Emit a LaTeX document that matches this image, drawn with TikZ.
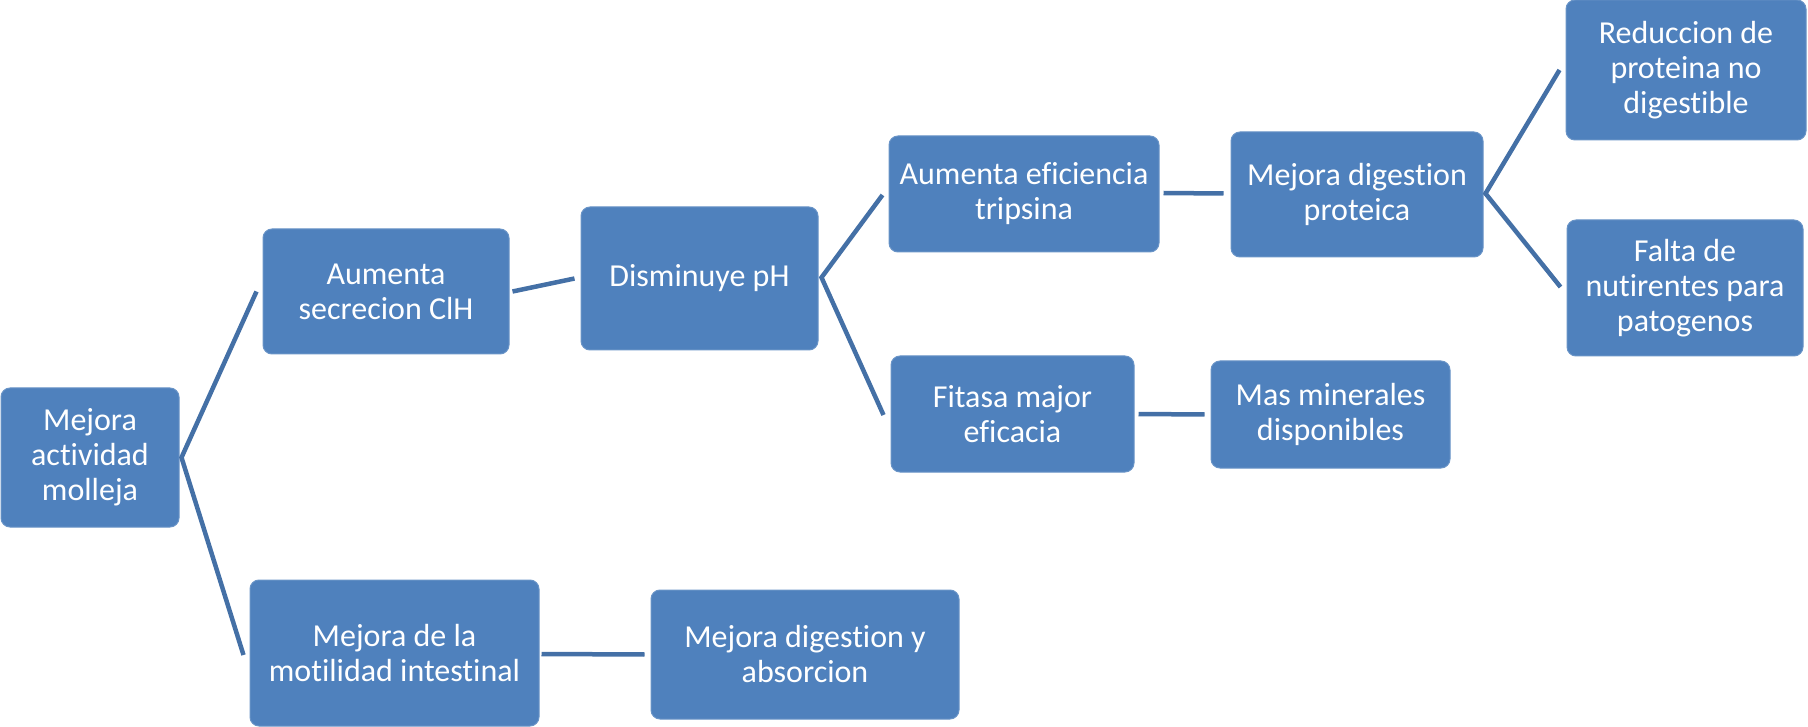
\documentclass[tikz,border=0pt]{standalone}
\usepackage{fontspec}
\setmainfont{Carlito}[Ligatures=NoCommon]
\usetikzlibrary{calc}
\definecolor{boxblue}{HTML}{4F81BD}
\definecolor{linkblue}{HTML}{4470A6}
\tikzset{
  box/.style={rectangle, rounded corners=9pt, fill=boxblue, draw=boxblue!85!white, line width=1pt,
    text=white, align=center, inner sep=0pt,
    font=\fontsize{32}{35}\selectfont},
  link/.style={draw=linkblue, line width=4.5pt}
}
\begin{document}
\begin{tikzpicture}[x=1pt,y=-1pt]
\useasboundingbox (0,0) rectangle (1808,727);
\node[box, minimum width=178pt, minimum height=139pt] (b1) at (90,457.5) {Mejora\\actividad\\molleja};
\node[box, minimum width=246pt, minimum height=125pt] (b2) at (386,291.5) {Aumenta\\secrecion ClH};
\node[box, minimum width=237pt, minimum height=143pt] (b3) at (699.5,278.5) {Disminuye pH};
\node[box, minimum width=270pt, minimum height=116pt] (b4) at (1024,194) {Aumenta eficiencia\\tripsina};
\node[box, minimum width=252pt, minimum height=125pt] (b5) at (1357,194.5) {Mejora digestion\\proteica};
\node[box, minimum width=240pt, minimum height=140pt] (b6) at (1686,70) {Reduccion de\\proteina no\\digestible};
\node[box, minimum width=236pt, minimum height=136pt] (b7) at (1685,288) {Falta de\\nutirentes para\\patogenos};
\node[box, minimum width=243pt, minimum height=116pt] (b8) at (1012.5,414) {Fitasa major\\eficacia};
\node[box, minimum width=239pt, minimum height=107pt] (b9) at (1330.5,414.5) {Mas minerales\\disponibles};
\node[box, minimum width=289pt, minimum height=146pt] (b10) at (394.5,653) {Mejora de la\\motilidad intestinal};
\node[box, minimum width=308pt, minimum height=129pt] (b11) at (805,654.5) {Mejora digestion y\\absorcion};

\coordinate (f1) at ($(b1.east)+(2,0)$);
\coordinate (f3) at ($(b3.east)+(3,-1)$);
\coordinate (f5) at ($(b5.east)+(2,-1)$);

\draw[link] ($(b2.west)+(-6,0)$) -- (f1) -- ($(b10.west)+(-6,2)$);
\draw[link] ($(b2.east)+(3,0)$) -- ($(b3.west)+(-6,0)$);
\draw[link] ($(b4.west)+(-6,1)$) -- (f3) -- ($(b8.west)+(-7,1)$);
\draw[link] ($(b4.east)+(4,-1)$) -- ($(b5.west)+(-7,-1)$);
\draw[link] ($(b6.west)+(-6,0)$) -- (f5) -- ($(b7.west)+(-6,-1)$);
\draw[link] ($(b8.east)+(4,0)$) -- ($(b9.west)+(-6,0)$);
\draw[link] ($(b10.east)+(2,1)$) -- ($(b11.west)+(-6,0)$);
\end{tikzpicture}
\end{document}
